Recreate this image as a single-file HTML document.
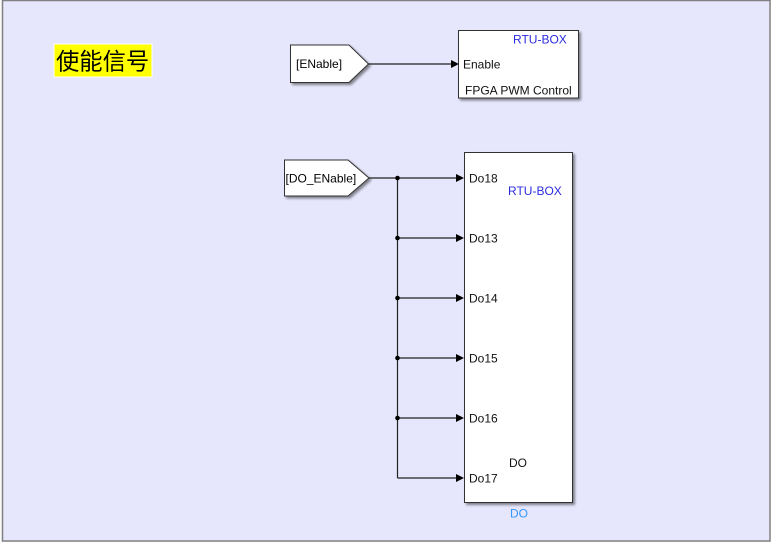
<!DOCTYPE html>
<html><head><meta charset="utf-8"><style>
html,body{margin:0;padding:0;background:#fff;}
svg{display:block;}
text{font-family:"Liberation Sans",Arial,sans-serif;}
</style></head><body>
<svg width="771" height="543" viewBox="0 0 771 543" xmlns="http://www.w3.org/2000/svg">
<defs>
<filter id="sh" x="-10%" y="-10%" width="130%" height="130%">
<feGaussianBlur in="SourceAlpha" stdDeviation="1.2"/>
<feOffset dx="2" dy="2" result="b"/>
<feComponentTransfer><feFuncA type="linear" slope="0.45"/></feComponentTransfer>
<feMerge><feMergeNode/><feMergeNode in="SourceGraphic"/></feMerge>
</filter>
</defs>
<rect x="0" y="0" width="771" height="543" fill="#fbfbfb"/>
<rect x="2.5" y="0.5" width="767.5" height="540.5" fill="#e6e6fc" stroke="#808080" stroke-width="1.5"/>

<!-- Chinese label -->
<rect x="54" y="44" width="98" height="33" fill="#ffff00" stroke="#ffffff" stroke-width="1"/>
<text x="56" y="69.5" font-size="23.3" style='font-family:"Liberation Sans","Noto Sans CJK SC",sans-serif' fill="#000">使能信号</text>

<!-- ENable goto -->
<g filter="url(#sh)">
<polygon points="290.5,45 349,45 368.5,64 349,82.5 290.5,82.5" fill="#fff" stroke="#333" stroke-width="1"/>
</g>
<text x="296" y="68" font-size="12" fill="#000">[ENable]</text>
<line x1="368.5" y1="64" x2="452" y2="64" stroke="#222" stroke-width="1.2"/>
<polygon points="451,60 459,64 451,68" fill="#000"/>

<!-- Top block -->
<g filter="url(#sh)">
<rect x="458.5" y="30.5" width="120" height="67.5" fill="#fff" stroke="#333" stroke-width="1"/>
</g>
<text x="513" y="43.5" font-size="12" fill="#2b2be0">RTU-BOX</text>
<text x="463" y="68.5" font-size="12" fill="#111">Enable</text>
<text x="465" y="94.5" font-size="12" fill="#111">FPGA PWM Control</text>

<!-- DO_ENable goto -->
<g filter="url(#sh)">
<polygon points="284.5,160 348,160 369,178 348,196 284.5,196" fill="#fff" stroke="#333" stroke-width="1"/>
</g>
<text x="285.5" y="182.5" font-size="12" fill="#000">[DO_ENable]</text>

<!-- lines -->
<g stroke="#222" stroke-width="1.2" fill="none">
<line x1="369" y1="178" x2="457" y2="178"/>
<line x1="397.5" y1="178" x2="397.5" y2="478"/>
<line x1="397.5" y1="238" x2="457" y2="238"/>
<line x1="397.5" y1="298" x2="457" y2="298"/>
<line x1="397.5" y1="358" x2="457" y2="358"/>
<line x1="397.5" y1="418" x2="457" y2="418"/>
<line x1="397.5" y1="478" x2="457" y2="478"/>
</g>
<g fill="#000">
<circle cx="397.5" cy="178" r="2.3"/>
<circle cx="397.5" cy="238" r="2.3"/>
<circle cx="397.5" cy="298" r="2.3"/>
<circle cx="397.5" cy="358" r="2.3"/>
<circle cx="397.5" cy="418" r="2.3"/>
<polygon points="456,174 464,178 456,182"/>
<polygon points="456,234 464,238 456,242"/>
<polygon points="456,294 464,298 456,302"/>
<polygon points="456,354 464,358 456,362"/>
<polygon points="456,414 464,418 456,422"/>
<polygon points="456,474 464,478 456,482"/>
</g>

<!-- Big block -->
<g filter="url(#sh)">
<rect x="464.5" y="152.5" width="108" height="350" fill="#fff" stroke="#333" stroke-width="1"/>
</g>
<g font-size="12" fill="#111">
<text x="469" y="182.5">Do18</text>
<text x="469" y="242.5">Do13</text>
<text x="469" y="302.5">Do14</text>
<text x="469" y="362.5">Do15</text>
<text x="469" y="422.5">Do16</text>
<text x="469" y="482.5">Do17</text>
<text x="509" y="467">DO</text>
</g>
<text x="508" y="195" font-size="12" fill="#2b2be0">RTU-BOX</text>
<text x="510" y="517.5" font-size="12" fill="#3399ff">DO</text>
</svg>
</body></html>
